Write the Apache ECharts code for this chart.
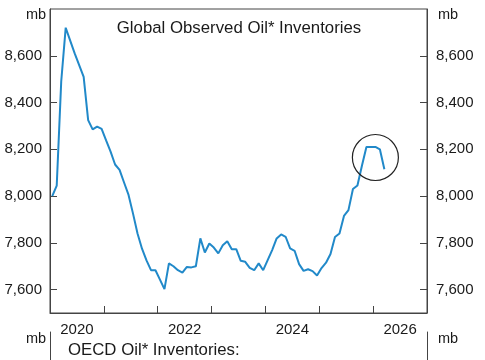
<!DOCTYPE html>
<html>
<head>
<meta charset="utf-8">
<script src="https://cdn.jsdelivr.net/npm/echarts@6/dist/echarts.min.js"></script>
<style>
html,body{margin:0;padding:0;background:#fff;}
#chart{width:485px;height:360px;}
</style>
</head>
<body>
<div id="chart"></div>
<script>
// ---- data ----
const months = [
  '2020-01','2020-02','2020-03','2020-04','2020-05','2020-06','2020-07','2020-08','2020-09','2020-10','2020-11','2020-12',
  '2021-01','2021-02','2021-03','2021-04','2021-05','2021-06','2021-07','2021-08','2021-09','2021-10','2021-11','2021-12',
  '2022-01','2022-02','2022-03','2022-04','2022-05','2022-06','2022-07','2022-08','2022-09','2022-10','2022-11','2022-12',
  '2023-01','2023-02','2023-03','2023-04','2023-05','2023-06','2023-07','2023-08','2023-09','2023-10','2023-11','2023-12',
  '2024-01','2024-02','2024-03','2024-04','2024-05','2024-06','2024-07','2024-08','2024-09','2024-10','2024-11','2024-12',
  '2025-01','2025-02','2025-03','2025-04','2025-05','2025-06','2025-07','2025-08','2025-09','2025-10','2025-11','2025-12',
  '2026-01','2026-02','2026-03'
];
const inventories = [
  8000, 8045, 8490, 8720, 8665, 8610, 8560, 8510, 8325, 8285, 8297, 8287,
  8238, 8190, 8135, 8112, 8058, 8005, 7925, 7840, 7775, 7725, 7683, 7683,
  7643, 7602, 7712, 7700, 7683, 7673, 7697, 7695, 7700, 7819, 7759, 7797,
  7780, 7755, 7790, 7807, 7773, 7773, 7723, 7719, 7693, 7683, 7712, 7683,
  7726, 7769, 7819, 7836, 7826, 7776, 7766, 7709, 7680, 7687, 7679, 7660,
  7692, 7715, 7752, 7825, 7840, 7915, 7940, 8030, 8045, 8130, 8210, 8210,
  8210, 8200, 8115
];
const yTicks = [7600, 7800, 8000, 8200, 8400, 8600];
const yearLabels = ['2020', '2022', '2024', '2026'];
const yearBoundaries = ['2021', '2022', '2023', '2024', '2025', '2026'];
const highlight = { month: '2026-01', value: 8165 };
const titleTop = 'Global Observed Oil* Inventories';
const titleBottom = 'OECD Oil* Inventories:';
const unit = 'mb';

// ---- helpers ----
const baseYear = 2020;
function monthPos(m) {
  const [y, mo] = m.split('-').map(Number);
  return (y - baseYear) * 12 + (mo - 1) + 0.5; // mid-month
}
const seriesData = months.map((m, i) => [monthPos(m), inventories[i]]);
const tickPos = yearBoundaries.map(y => (Number(y) - baseYear) * 12);
const labelPos = yearLabels.map(y => (Number(y) - baseYear) * 12 + 6);

const FONT = "'Liberation Sans', Arial, sans-serif";
const TXT = '#1a1a1a';
const AX = '#444';

const chart = echarts.init(document.getElementById('chart'), null, { renderer: 'canvas' });
chart.setOption({
  animation: false,
  backgroundColor: '#fff',
  textStyle: { fontFamily: FONT },
  title: [
    { text: titleTop, left: 234, top: 15, textAlign: 'center',
      textStyle: { fontFamily: FONT, fontSize: 16.8, fontWeight: 'normal', color: TXT } },
    { text: unit, left: 21, top: 2, textStyle: { fontFamily: FONT, fontSize: 14.5, fontWeight: 'normal', color: TXT } },
    { text: unit, left: 433, top: 2, textStyle: { fontFamily: FONT, fontSize: 14.5, fontWeight: 'normal', color: TXT } },
    { text: unit, left: 21, top: 326, textStyle: { fontFamily: FONT, fontSize: 14.5, fontWeight: 'normal', color: TXT } },
    { text: unit, left: 433, top: 326, textStyle: { fontFamily: FONT, fontSize: 14.5, fontWeight: 'normal', color: TXT } },
    { text: titleBottom, left: 63, top: 337, textStyle: { fontFamily: FONT, fontSize: 16.8, fontWeight: 'normal', color: TXT } }
  ],
  grid: [
    { left: 50, right: 58, top: 9, bottom: 47, show: true, borderColor: AX, borderWidth: 1, backgroundColor: 'transparent' },
    { left: 50, right: 58, top: 332, height: 120 }
  ],
  xAxis: [
    {
      gridIndex: 0, type: 'value', min: 0, max: 84,
      axisLine: { show: true, lineStyle: { color: AX, width: 1 } },
      axisTick: { show: true, inside: true, length: 7, customValues: tickPos, lineStyle: { color: AX } },
      axisLabel: {
        show: true, customValues: labelPos, margin: 9,
        fontFamily: FONT, fontSize: 15, color: TXT,
        formatter: v => yearLabels[labelPos.indexOf(v)] || ''
      },
      splitLine: { show: false }
    },
    {
      gridIndex: 1, type: 'value', min: 0, max: 84, show: false
    }
  ],
  yAxis: [
    {
      gridIndex: 0, type: 'value', position: 'left', min: 7500, max: 8800,
      axisLine: { show: true, lineStyle: { color: AX } },
      axisTick: { show: true, inside: true, length: 7, customValues: yTicks, lineStyle: { color: AX } },
      axisLabel: { customValues: yTicks, margin: 8, fontFamily: FONT, fontSize: 15, color: TXT,
        formatter: v => v.toLocaleString('en-US') },
      splitLine: { show: false }
    },
    {
      gridIndex: 0, type: 'value', position: 'right', min: 7500, max: 8800,
      axisLine: { show: true, lineStyle: { color: AX } },
      axisTick: { show: true, inside: true, length: 7, customValues: yTicks, lineStyle: { color: AX } },
      axisLabel: { customValues: yTicks, margin: 9, fontFamily: FONT, fontSize: 15, color: TXT,
        formatter: v => v.toLocaleString('en-US') },
      splitLine: { show: false }
    },
    {
      gridIndex: 1, type: 'value', position: 'left', min: 0, max: 1,
      axisLine: { show: true, lineStyle: { color: AX } },
      axisTick: { show: false }, axisLabel: { show: false }, splitLine: { show: false }
    },
    {
      gridIndex: 1, type: 'value', position: 'right', min: 0, max: 1,
      axisLine: { show: true, lineStyle: { color: AX } },
      axisTick: { show: false }, axisLabel: { show: false }, splitLine: { show: false }
    }
  ],
  series: [
    {
      type: 'line', xAxisIndex: 0, yAxisIndex: 0,
      data: seriesData, showSymbol: false, symbol: 'none',
      lineStyle: { color: '#2189c9', width: 2 },
      markPoint: {
        silent: true,
        symbol: 'circle', symbolSize: 46,
        label: { show: false },
        itemStyle: { color: 'rgba(0,0,0,0)', borderColor: '#222', borderWidth: 1.2 },
        data: [{ coord: [monthPos(highlight.month), highlight.value] }]
      }
    }
  ]
});
</script>
</body>
</html>
